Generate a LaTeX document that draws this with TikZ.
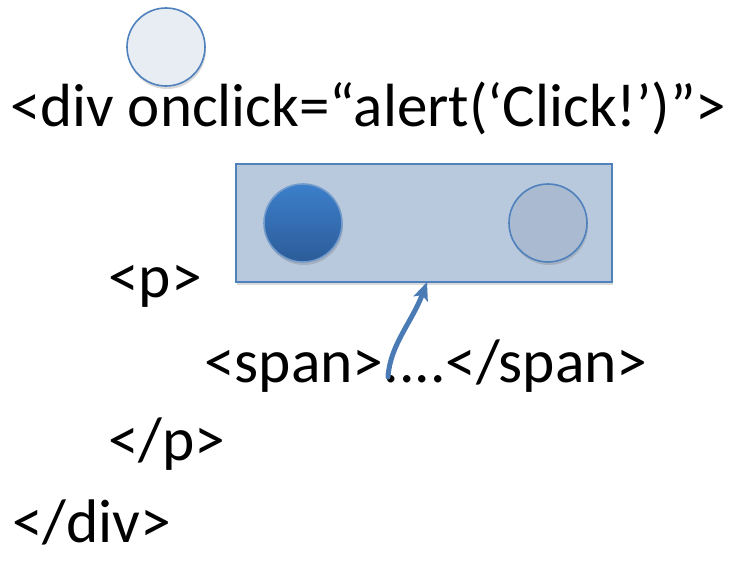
\documentclass[tikz,border=0pt]{standalone}
\usepackage{fontspec}
\setmainfont{Carlito}
\usetikzlibrary{arrows.meta,shadows}
\definecolor{edgeblue}{HTML}{4F81BD}
\definecolor{boxfill}{HTML}{B9C9DD}
\definecolor{topfill}{HTML}{E8EDF4}
\definecolor{ghostfill}{HTML}{A9BAD1}
\definecolor{dottop}{HTML}{3C7FCB}
\definecolor{dotbot}{HTML}{2C5C99}
\tikzset{
  code/.style={anchor=base west, inner sep=0pt, font=\fontsize{61.5}{62}\selectfont},
  ball/.style={circle, minimum size=78pt, inner sep=0pt, line width=1.6pt, draw=edgeblue,
     drop shadow={shadow xshift=1pt, shadow yshift=-3pt, opacity=0.25, fill=black!60}},
  panel/.style={rectangle, inner sep=0pt, line width=1.6pt, draw=edgeblue, fill=boxfill,
     drop shadow={shadow xshift=1pt, shadow yshift=-3pt, opacity=0.25, fill=black!60}},
  pointer/.style={line width=5pt, draw=edgeblue!95!black, line cap=round,
     -{Stealth[length=18pt,width=15pt,inset=4pt]}}
}
\begin{document}
\begin{tikzpicture}[x=1pt,y=-1pt]
\useasboundingbox (0,0) rectangle (738,561);
% text lines
\node[code, font=\fontsize{61}{62}\selectfont] (l1) at (10,127) {<div onclick=“alert(‘Click!’)”>};
\node[code] (l2) at (108,297) {<p>};
\node[code] (l3) at (204,382) {<span>....</span>};
\node[code] (l4) at (108,460) {</p>};
\node[code] (l5) at (12,542) {</div>};
% top circle
\node[ball, fill=topfill] (topc) at (166,47) {};
% panel
\node[panel, minimum width=376pt, minimum height=118pt] (box) at (424,223) {};
\node[ball, draw=edgeblue!80!white, top color=dottop, bottom color=dotbot] (dot) at (303,223) {};
\node[ball, fill=ghostfill] (ghost) at (548,223) {};
% arrow
\coordinate (astart) at (388,377);
\coordinate (atip) at (427,282);
\draw[pointer] (astart) .. controls (390,345) and (412,322) .. (atip);
\end{tikzpicture}
\end{document}
